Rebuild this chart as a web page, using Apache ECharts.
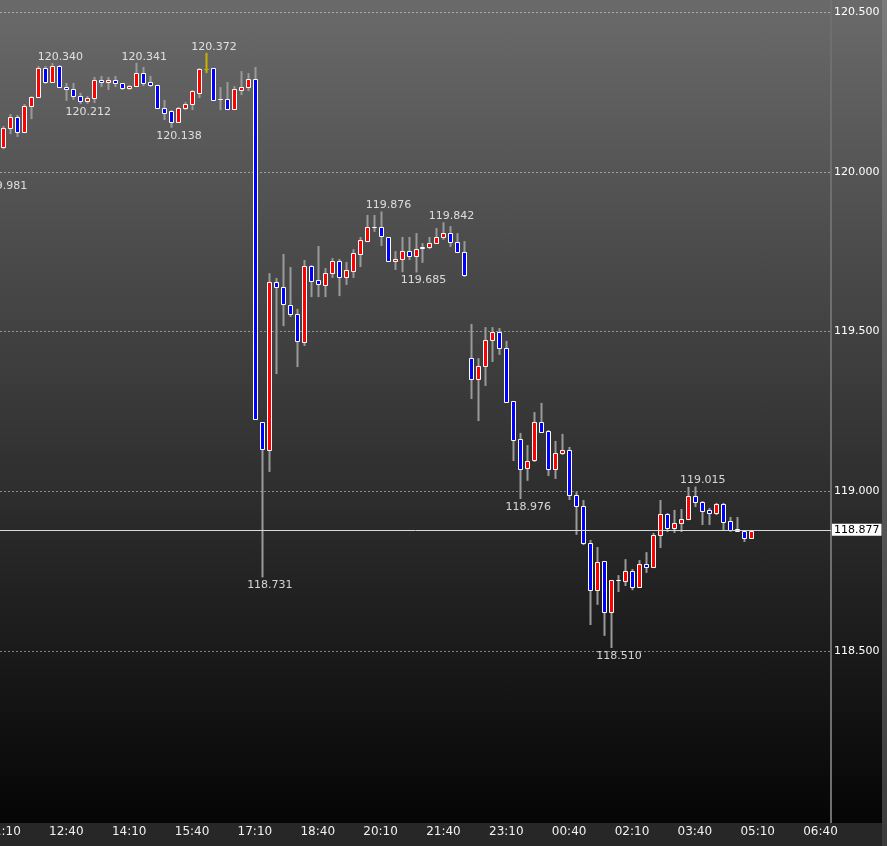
<!DOCTYPE html>
<html>
<head>
<meta charset="utf-8">
<title>10min chart</title>
<script src="https://cdn.jsdelivr.net/npm/echarts@6.0.0/dist/echarts.min.js"></script>
<style>
  html, body { margin: 0; padding: 0; background: #000; }
  #chart {
    width: 887px;
    height: 846px;
    background: linear-gradient(to bottom, #6a6a6a 0px, #050505 823px, #272727 823px, #272727 846px);
  }
</style>
</head>
<body>
<div id="chart"></div>
<script>
const FONT = 'DejaVu Sans'

// 10 minute slots from 11:10, the window holds 119 of them
const firstSlot = 11 * 60 + 10
const slotCount = 119
const timeLabels = []
for (let i = 0; i < slotCount; i++) {
  const m = (firstSlot + i * 10) % 1440
  timeLabels.push(String(Math.floor(m / 60)).padStart(2, '0') + ':' + String(m % 60).padStart(2, '0'))
}

const opens = [
  120.078, 120.137, 120.171, 120.125, 120.206, 120.234, 120.325, 120.281, 120.331, 120.265,
  120.259, 120.237, 120.222, 120.231, 120.287, 120.281, 120.287, 120.278, 120.262, 120.268,
  120.309, 120.281, 120.272, 120.200, 120.190, 120.156, 120.200, 120.212, 120.247, 120.322,
  120.325, 120.228, 120.228, 120.197, 120.256, 120.265, 120.290, 119.217, 119.129, 119.655,
  119.640, 119.583, 119.555, 119.467, 119.705, 119.661, 119.646, 119.683, 119.721, 119.671,
  119.690, 119.743, 119.783, 119.827, 119.827, 119.796, 119.721, 119.727, 119.752, 119.737,
  119.762, 119.765, 119.777, 119.796, 119.808, 119.780, 119.749, 119.417, 119.352, 119.392,
  119.474, 119.499, 119.449, 119.283, 119.164, 119.073, 119.098, 119.217, 119.189, 119.070,
  119.120, 119.129, 118.989, 118.954, 118.839, 118.691, 118.782, 118.623, 118.723, 118.720,
  118.751, 118.701, 118.773, 118.763, 118.864, 118.929, 118.885, 118.901, 118.914, 118.986,
  118.967, 118.942, 118.932, 118.961, 118.907, 118.882, 118.876, 118.854
]
const closes = [
  120.137, 120.171, 120.125, 120.206, 120.234, 120.325, 120.281, 120.331, 120.265, 120.259,
  120.237, 120.222, 120.231, 120.287, 120.281, 120.287, 120.278, 120.262, 120.268, 120.309,
  120.278, 120.272, 120.200, 120.184, 120.156, 120.200, 120.212, 120.253, 120.322, 120.322,
  120.225, 120.228, 120.197, 120.259, 120.265, 120.290, 119.227, 119.133, 119.655, 119.640,
  119.586, 119.555, 119.471, 119.705, 119.658, 119.649, 119.683, 119.721, 119.671, 119.693,
  119.746, 119.787, 119.827, 119.827, 119.799, 119.721, 119.727, 119.752, 119.737, 119.758,
  119.765, 119.777, 119.796, 119.808, 119.780, 119.749, 119.677, 119.352, 119.392, 119.474,
  119.499, 119.449, 119.280, 119.161, 119.070, 119.095, 119.217, 119.186, 119.070, 119.120,
  119.129, 118.989, 118.954, 118.839, 118.691, 118.779, 118.623, 118.723, 118.723, 118.751,
  118.701, 118.773, 118.763, 118.864, 118.929, 118.885, 118.901, 118.914, 118.986, 118.967,
  118.939, 118.932, 118.961, 118.904, 118.879, 118.876, 118.854, 118.877
]
const lows = [
  120.071, 120.118, 120.109, 120.121, 120.165, 120.231, 120.275, 120.278, 120.262, 120.222,
  120.225, 120.212, 120.213, 120.215, 120.265, 120.256, 120.265, 120.256, 120.256, 120.265,
  120.268, 120.265, 120.197, 120.162, 120.138, 120.153, 120.193, 120.193, 120.231, 120.309,
  120.225, 120.193, 120.193, 120.193, 120.240, 120.253, 119.224, 118.731, 119.061, 119.367,
  119.517, 119.546, 119.389, 119.455, 119.608, 119.608, 119.608, 119.668, 119.611, 119.646,
  119.668, 119.702, 119.780, 119.812, 119.768, 119.718, 119.693, 119.686, 119.724, 119.685,
  119.715, 119.758, 119.774, 119.787, 119.765, 119.746, 119.671, 119.289, 119.220, 119.330,
  119.405, 119.427, 119.277, 119.095, 118.976, 119.033, 119.092, 119.186, 119.048, 119.039,
  119.114, 118.973, 118.864, 118.832, 118.582, 118.645, 118.548, 118.510, 118.685, 118.704,
  118.691, 118.698, 118.745, 118.760, 118.823, 118.873, 118.870, 118.873, 118.910, 118.951,
  118.895, 118.895, 118.926, 118.876, 118.873, 118.873, 118.842, 118.854
]
const highs = [
  120.143, 120.181, 120.178, 120.212, 120.237, 120.331, 120.331, 120.340, 120.334, 120.278,
  120.278, 120.247, 120.237, 120.297, 120.300, 120.297, 120.300, 120.278, 120.272, 120.341,
  120.328, 120.300, 120.272, 120.225, 120.193, 120.203, 120.218, 120.256, 120.325, 120.372,
  120.325, 120.265, 120.281, 120.268, 120.315, 120.309, 120.328, 119.217, 119.683, 119.668,
  119.743, 119.702, 119.571, 119.724, 119.708, 119.768, 119.699, 119.730, 119.727, 119.718,
  119.758, 119.796, 119.865, 119.865, 119.876, 119.796, 119.752, 119.796, 119.796, 119.808,
  119.777, 119.796, 119.824, 119.842, 119.830, 119.808, 119.783, 119.524, 119.417, 119.514,
  119.514, 119.511, 119.471, 119.283, 119.183, 119.145, 119.248, 119.277, 119.192, 119.158,
  119.180, 119.139, 118.998, 118.973, 118.848, 118.826, 118.782, 118.723, 118.738, 118.788,
  118.757, 118.785, 118.810, 118.870, 118.973, 118.932, 118.942, 118.945, 119.014, 119.015,
  118.970, 118.948, 118.964, 118.964, 118.920, 118.920, 118.879, 118.879
]

// swing highs / lows printed on the chart: [slot, price]
const highMarks = [[7, 120.340], [19, 120.341], [29, 120.372], [54, 119.876], [63, 119.842], [99, 119.015]]
const lowMarks = [[11, 120.212], [24, 120.138], [37, 118.731], [59, 119.685], [74, 118.976], [87, 118.510]]
// low of the slot just left of the window, only its label shows
const edgeLowMarks = [[0, 119.981]]

const lastPrice = closes[closes.length - 1]
const topIndex = highs.indexOf(Math.max(...highs))
const candleData = opens.map((o, i) => [i, o, closes[i], lows[i], highs[i]])

function renderCandle(params, api) {
  const idx = api.value(0)
  const open = api.value(1)
  const close = api.value(2)
  const top = api.coord([idx, Math.max(open, close)])
  const bottom = api.coord([idx, Math.min(open, close)])
  const hi = api.coord([idx, api.value(4)])
  const lo = api.coord([idx, api.value(3)])
  const c = Math.round(top[0])
  const yt = Math.round(top[1]) + 0.5
  const yb = Math.round(bottom[1]) + 0.5
  const special = idx === topIndex
  let fill = '#ffffff'
  if (close > open) fill = '#ff0000'
  if (close < open) fill = '#0000ff'
  return {
    type: 'group',
    children: [
      {
        type: 'line',
        shape: { x1: c + 0.5, y1: hi[1], x2: c + 0.5, y2: lo[1] },
        style: { stroke: special ? '#c8b400' : '#9a9a9a', lineWidth: 2 }
      },
      {
        type: 'rect',
        shape: { x: c - 1.5, y: yt, width: 4, height: yb - yt },
        style: { fill: fill, stroke: special ? '#c8b400' : '#ffffff', lineWidth: 1 }
      }
    ]
  }
}

function labelSeries(data, position, distance, offset) {
  return {
    type: 'scatter',
    data: data,
    symbolSize: 1,
    silent: true,
    itemStyle: { color: 'transparent' },
    label: {
      show: true,
      position: position,
      distance: distance,
      offset: offset,
      formatter: p => p.value[1].toFixed(3),
      color: '#ffffff',
      fontFamily: FONT,
      fontSize: 11
    },
    z: 5
  }
}

const myChart = echarts.init(document.getElementById('chart'))
const option = {
  backgroundColor: 'transparent',
  animation: false,
  grid: { left: 0, right: 56, top: 12, bottom: 35, containLabel: false, outerBoundsMode: 'none' },
  xAxis: {
    type: 'category',
    data: timeLabels,
    boundaryGap: true,
    axisLine: { show: false },
    axisTick: { show: false },
    splitLine: { show: false },
    axisLabel: { interval: 8, color: '#f0f0f0', fontFamily: FONT, fontSize: 12, margin: 15 }
  },
  yAxis: {
    type: 'value',
    position: 'right',
    min: 118,
    max: 120.5,
    interval: 0.5,
    axisLine: { show: false },
    axisTick: { show: false },
    axisLabel: {
      color: '#ffffff',
      fontFamily: FONT,
      fontSize: 11,
      margin: 3,
      showMinLabel: false,
      formatter: v => v.toFixed(3)
    },
    splitLine: {
      show: true,
      showMinLine: false,
      lineStyle: { color: 'rgba(255,255,255,0.45)', type: [2, 2], width: 1 }
    }
  },
  graphic: [
    { type: 'rect', shape: { x: 830, y: 0, width: 2, height: 823 }, style: { fill: '#6f6f6f' }, z: 1 },
    {
      type: 'rect',
      shape: { x: 882, y: 0, width: 5, height: 846 },
      style: {
        fill: new echarts.graphic.LinearGradient(0, 0, 0, 1, [
          { offset: 0, color: '#7a7a7a' },
          { offset: 1, color: '#3c3c3c' }
        ])
      },
      z: 1
    }
  ],
  series: [
    {
      type: 'custom',
      renderItem: renderCandle,
      data: candleData,
      encode: { x: 0, y: [1, 2, 3, 4] },
      clip: false,
      z: 3,
      markLine: {
        silent: true,
        symbol: ['none', 'none'],
        data: [{ yAxis: lastPrice }],
        lineStyle: { color: '#d9d9d9', width: 1, type: 'solid' },
        label: {
          position: 'end',
          distance: 1,
          formatter: lastPrice.toFixed(3),
          backgroundColor: '#ffffff',
          color: '#000000',
          padding: [1, 2, 0, 2],
          fontFamily: FONT,
          fontSize: 11
        }
      }
    },
    labelSeries(highMarks, 'top', 0, [8, 0]),
    labelSeries(lowMarks, 'bottom', 2, [8, 0]),
    labelSeries(edgeLowMarks, 'bottom', 2, [1, 0])
  ]
}
myChart.setOption(option)
window.addEventListener('resize', () => { myChart.resize() })
</script>
</body>
</html>
